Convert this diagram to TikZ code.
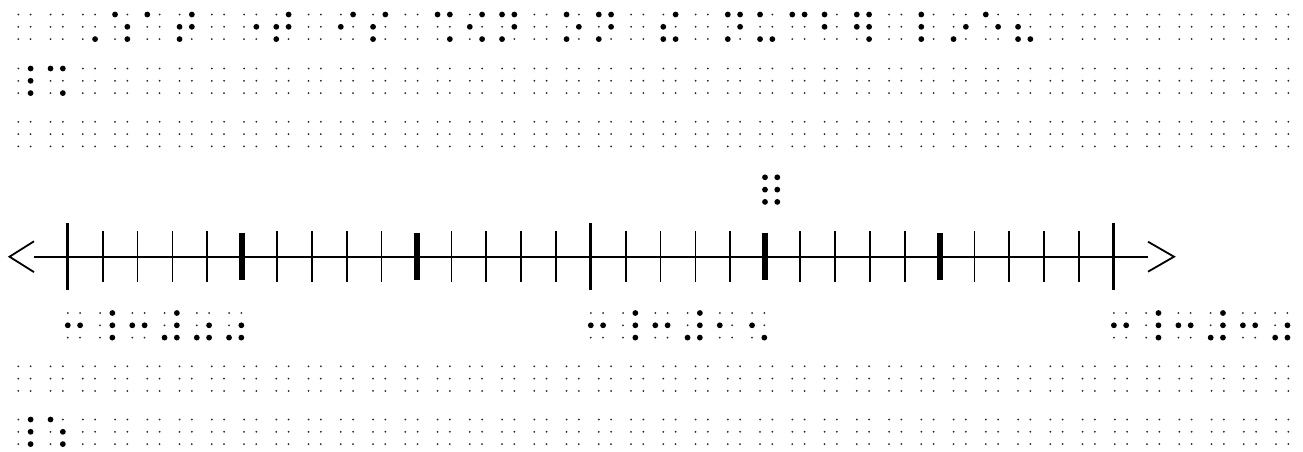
\documentclass[tikz,border=0pt]{standalone}
\tikzset{
  bigdot/.style={fill=black},
  smalldot/.style={fill=black!85},
  axisline/.style={line width=1.8pt},
  thintick/.style={line width=1.7pt},
  fivetick/.style={line width=6pt},
  endtick/.style={line width=3pt},
}
\newcommand\cellsmall[2]{%
  \foreach \cc in {0,1}{\foreach \rr in {0,1,2}{%
    \fill[smalldot] ({#1+\cc*12.3},{#2+\rr*12.3}) circle (1.0pt);}}}
\newcommand\cellbig[3]{%
  \foreach \d in {#3}{%
    \pgfmathsetmacro\dx{(\d>3)*12.3}%
    \pgfmathsetmacro\dy{mod(\d-1,3)*12.3}%
    \fill[bigdot] ({#1+\dx},{#2+\dy}) circle (2.9pt);}}
\newcommand\gcell[3]{\cellbig{18.3+32.25*#1}{#2}{#3}}
\newcommand\lcell[3]{\cellbig{#1+32.25*#2}{313}{#3}}
\begin{document}
\begin{tikzpicture}[x=1pt,y=-1pt]
\useasboundingbox (0,0) rectangle (1303,451);
\fill[white] (0,0) rectangle (1303,451);
% grid of empty cells
\foreach \yy in {14.5,68.5,121.8,366.3,419.5}{
  \foreach \i in {0,...,39}{\cellsmall{18.3+32.25*\i}{\yy}}}
% line 1
\gcell{2}{14.5}{6}
\gcell{3}{14.5}{1,5,6}
\gcell{4}{14.5}{1}
\gcell{5}{14.5}{2,3,4,5}
\gcell{7}{14.5}{5}
\gcell{8}{14.5}{2,3,4,5}
\gcell{10}{14.5}{2,4}
\gcell{11}{14.5}{2,3,4}
\gcell{13}{14.5}{1,4,6}
\gcell{14}{14.5}{2,4,6}
\gcell{15}{14.5}{1,3,4,5}
\gcell{17}{14.5}{1,3,5}
\gcell{18}{14.5}{1,3,4,5}
\gcell{20}{14.5}{2,3,4,6}
\gcell{22}{14.5}{1,3,4,5}
\gcell{23}{14.5}{1,3,6}
\gcell{24}{14.5}{1,4}
\gcell{25}{14.5}{1,2}
\gcell{26}{14.5}{1,2,4,5,6}
\gcell{28}{14.5}{1,2,3}
\gcell{29}{14.5}{3,5}
\gcell{30}{14.5}{1,5}
\gcell{31}{14.5}{2,3,6}
% line 2
\gcell{0}{68.5}{4,5,6}
\gcell{1}{68.5}{1,4,6}
% last line
\gcell{0}{419.5}{4,5,6}
\gcell{1}{419.5}{1,5,6}
% number line
\coordinate (L) at (34,256.7);
\coordinate (R) at (1148,256.7);
\coordinate (Ltip) at (9.5,256.7);
\coordinate (Rtip) at (1174,256.7);
\draw[axisline] (L) -- (R);
\draw[axisline, line join=miter] ([yshift=-15.4pt]L) -- (Ltip) -- ([yshift=15.4pt]L);
\draw[axisline, line join=miter] ([yshift=-15pt]R) -- (Rtip) -- ([yshift=15pt]R);
\foreach \k in {0,...,30}{
  \pgfmathsetmacro\tx{67.8+34.87*\k}
  \pgfmathtruncatemacro\mf{mod(\k,5)}
  \pgfmathtruncatemacro\mq{mod(\k,15)}
  \ifnum\mq=0
    \draw[endtick] (\tx,223) -- (\tx,290);
  \else\ifnum\mf=0
    \draw[fivetick] (\tx,232.7) -- (\tx,280);
  \else
    \draw[thintick] (\tx,231) -- (\tx,281.7);
  \fi\fi
}
% full cell above tick 20
\cellbig{765}{177.3}{1,2,3,4,5,6}
% labels
\foreach \tx in {67.8,590.8,1113.9}{
  \foreach \j in {0,...,5}{\cellsmall{\tx+32.25*\j}{313}}
  \lcell{\tx}{0}{2,5}
  \lcell{\tx}{1}{4,5,6}
  \lcell{\tx}{2}{2,5}
  \lcell{\tx}{3}{3,4,5,6}
}
\lcell{67.8}{4}{3,5,6}
\lcell{67.8}{5}{3,5,6}
\lcell{590.8}{4}{2}
\lcell{590.8}{5}{2,6}
\lcell{1113.9}{4}{2,5}
\lcell{1113.9}{5}{3,5,6}
\end{tikzpicture}
\end{document}
